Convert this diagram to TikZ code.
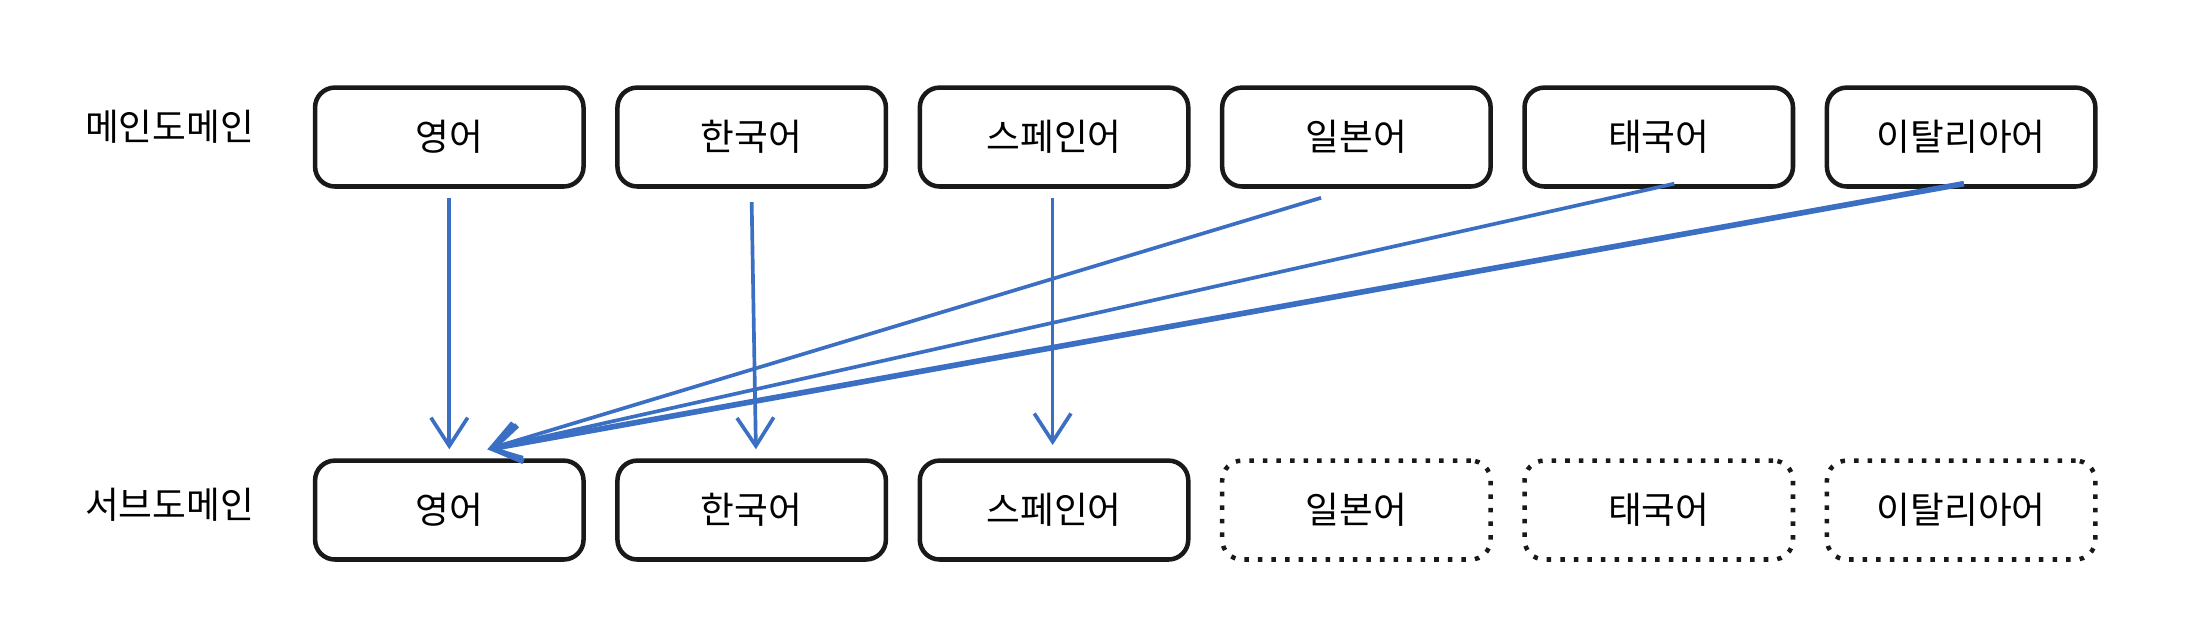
\documentclass[tikz,border=0pt]{standalone}
\usepackage{fontspec}
\setmainfont{Noto Sans CJK KR}
\usetikzlibrary{arrows.meta}
\begin{document}
\begin{tikzpicture}[x=0.5pt,y=-0.5pt,
  box/.style={draw=black!90,line width=1.6pt,rounded corners=7pt,minimum width=95pt,minimum height=35pt,inner sep=0pt,font=\fontsize{13}{15}\selectfont},
  sub/.style={box,dash pattern=on 1.6pt off 3.2pt},
  lbl/.style={font=\fontsize{13}{15}\selectfont},
  link/.style={draw={rgb,255:red,59;green,111;blue,196},line width=1.3pt,-{Straight Barb[length=10pt,width=13pt]}}]
\useasboundingbox (0,0) rectangle (1550,453);
\node[lbl] (mainlbl) at (120,90) {메인도메인};
\node[lbl] (sublbl) at (120,357) {서브도메인};
% main domains
\node[box] (m1) at (318,97) {영어};
\node[box] (m2) at (532,97) {한국어};
\node[box] (m3) at (746,97) {스페인어};
\node[box] (m4) at (960,97) {일본어};
\node[box] (m5) at (1174,97) {태국어};
\node[box] (m6) at (1388,97) {이탈리아어};
% sub domains
\node[box] (s1) at (318,361) {영어};
\node[box] (s2) at (532,361) {한국어};
\node[box] (s3) at (746,361) {스페인어};
\node[sub] (s4) at (960,361) {일본어};
\node[sub] (s5) at (1174,361) {태국어};
\node[sub] (s6) at (1388,361) {이탈리아어};
% connectors
\coordinate (t1) at (318,318);
\coordinate (t2) at (535,318);
\coordinate (t3) at (745,315);
\coordinate (t4) at (345,318);
\draw[link] (318,140) -- (t1);
\draw[link] (532,143) -- (t2);
\draw[link] (745,140) -- (t3);
\draw[link] (935,140) -- (t4);
\draw[link] (1185,130) -- (t4);
\draw[link,line width=2pt] (1390,130) -- (t4);
\end{tikzpicture}
\end{document}
